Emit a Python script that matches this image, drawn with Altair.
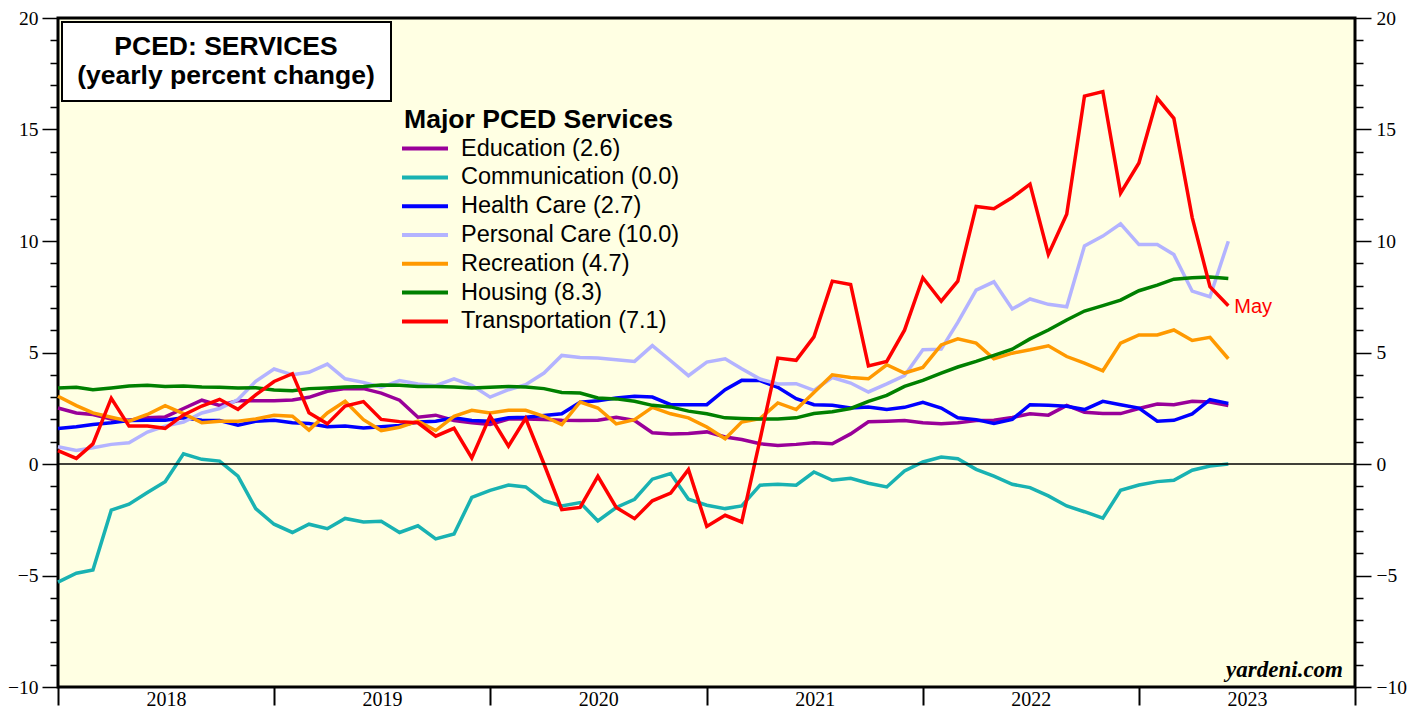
import altair as alt
import pandas as pd

# ---------------- data ----------------
months = [str(p) for p in pd.period_range("2017-12", "2023-05", freq="M")]
# each monthly value is plotted at the end of its month
plot_dates = [(pd.Period(m, freq="M") + 1).start_time.strftime("%Y-%m-%d") for m in months]

series_names = ["Education", "Communication", "Health Care", "Personal Care",
                "Recreation", "Housing", "Transportation"]
series_colors = ["#990099", "#19B2B2", "#0000FF", "#B3B3FF",
                 "#FF9900", "#008000", "#FF0000"]

education = [2.51, 2.29, 2.22, 2.02, 1.96, 2.07, 2.11, 2.49, 2.86, 2.63, 2.84, 2.84,
             2.84, 2.87, 2.99, 3.26, 3.38, 3.38, 3.18, 2.86, 2.10, 2.19, 1.95, 1.85,
             1.77, 2.02, 2.02, 2.00, 1.96, 1.95, 1.96, 2.10, 1.95, 1.40, 1.35, 1.37,
             1.44, 1.21, 1.10, 0.91, 0.83, 0.88, 0.95, 0.91, 1.35, 1.89, 1.92, 1.95,
             1.85, 1.80, 1.85, 1.95, 1.96, 2.09, 2.25, 2.19, 2.63, 2.32, 2.26, 2.26,
             2.49, 2.69, 2.66, 2.81, 2.78, 2.62]
communication = [-5.30, -4.90, -4.75, -2.07, -1.80, -1.28, -0.79, 0.46, 0.21, 0.13, -0.54, -2.00,
                 -2.70, -3.07, -2.70, -2.90, -2.44, -2.60, -2.57, -3.07, -2.77, -3.36, -3.14, -1.50,
                 -1.18, -0.94, -1.03, -1.65, -1.88, -1.73, -2.55, -1.95, -1.58, -0.68, -0.43, -1.58,
                 -1.85, -2.00, -1.88, -0.95, -0.91, -0.95, -0.36, -0.73, -0.64, -0.86, -1.03, -0.31,
                 0.09, 0.31, 0.24, -0.24, -0.54, -0.91, -1.06, -1.43, -1.88, -2.14, -2.43, -1.18,
                 -0.94, -0.79, -0.73, -0.28, -0.09, 0.0]
health_care = [1.59, 1.67, 1.77, 1.85, 1.95, 1.96, 1.96, 2.07, 1.96, 1.95, 1.74, 1.92,
               1.96, 1.85, 1.82, 1.67, 1.70, 1.62, 1.67, 1.73, 1.88, 1.92, 2.07, 1.95,
               1.92, 2.07, 2.10, 2.17, 2.25, 2.77, 2.84, 2.96, 3.04, 3.00, 2.66, 2.66,
               2.66, 3.33, 3.75, 3.74, 3.44, 2.93, 2.66, 2.63, 2.51, 2.56, 2.44, 2.54,
               2.77, 2.51, 2.07, 1.99, 1.82, 2.00, 2.66, 2.63, 2.59, 2.44, 2.81, 2.66,
               2.51, 1.92, 1.96, 2.25, 2.89, 2.72]
personal_care = [0.77, 0.61, 0.73, 0.88, 0.95, 1.43, 1.70, 1.88, 2.29, 2.49, 2.89, 3.71,
                 4.26, 4.00, 4.11, 4.48, 3.82, 3.66, 3.44, 3.74, 3.59, 3.51, 3.82, 3.53,
                 3.00, 3.33, 3.56, 4.08, 4.87, 4.78, 4.75, 4.67, 4.60, 5.31, 4.63, 3.96,
                 4.57, 4.72, 4.27, 3.81, 3.59, 3.60, 3.30, 3.88, 3.63, 3.23, 3.59, 3.96,
                 5.12, 5.15, 6.35, 7.80, 8.17, 6.95, 7.40, 7.16, 7.05, 9.78, 10.22, 10.77,
                 9.84, 9.84, 9.39, 7.75, 7.50, 9.99]
recreation = [3.04, 2.62, 2.29, 2.10, 1.92, 2.22, 2.62, 2.26, 1.85, 1.92, 1.92, 2.02,
              2.19, 2.14, 1.52, 2.29, 2.81, 1.99, 1.50, 1.65, 1.92, 1.50, 2.14, 2.41,
              2.29, 2.41, 2.41, 2.14, 1.77, 2.78, 2.51, 1.80, 1.99, 2.54, 2.25, 2.07,
              1.66, 1.13, 1.88, 2.04, 2.74, 2.44, 3.21, 4.00, 3.88, 3.82, 4.45, 4.08,
              4.33, 5.34, 5.61, 5.42, 4.72, 4.97, 5.12, 5.30, 4.82, 4.52, 4.18, 5.42,
              5.79, 5.79, 6.01, 5.54, 5.68, 4.72]
housing = [3.41, 3.44, 3.33, 3.41, 3.50, 3.53, 3.47, 3.50, 3.45, 3.44, 3.41, 3.42,
           3.32, 3.29, 3.38, 3.41, 3.45, 3.48, 3.54, 3.53, 3.48, 3.48, 3.45, 3.41,
           3.44, 3.48, 3.45, 3.38, 3.21, 3.18, 2.96, 2.92, 2.81, 2.63, 2.56, 2.37,
           2.25, 2.07, 2.04, 2.02, 2.02, 2.07, 2.26, 2.34, 2.49, 2.81, 3.08, 3.48,
           3.75, 4.08, 4.35, 4.60, 4.87, 5.15, 5.61, 6.01, 6.46, 6.86, 7.10, 7.35,
           7.77, 8.02, 8.29, 8.35, 8.39, 8.32]
transportation = [0.60, 0.25, 0.90, 2.95, 1.70, 1.70, 1.60, 2.20, 2.60, 2.90, 2.45, 3.10,
                  3.70, 4.05, 2.30, 1.80, 2.60, 2.80, 2.00, 1.90, 1.85, 1.25, 1.60, 0.27,
                  2.15, 0.80, 2.05, 0.00, -2.05, -1.95, -0.55, -1.95, -2.45, -1.65, -1.30, -0.25,
                  -2.80, -2.30, -2.60, 1.10, 4.75, 4.65, 5.70, 8.20, 8.05, 4.40, 4.60, 6.00,
                  8.35, 7.30, 8.20, 11.55, 11.45, 11.95, 12.55, 9.40, 11.20, 16.50, 16.70, 12.15,
                  13.50, 16.40, 15.50, 11.05, 7.95, 7.10]

series_values = [education, communication, health_care, personal_care,
                 recreation, housing, transportation]

title_lines = ["PCED: SERVICES", "(yearly percent change)"]
legend_title = "Major PCED Services"
latest_label = "May"
source_text = "yardeni.com"

legend_labels = [f"{n} ({v[-1]:.1f})" for n, v in zip(series_names, series_values)]

rows = []
for lab, vals in zip(legend_labels, series_values):
    for m, d, v in zip(months, plot_dates, vals):
        rows.append({"series": lab, "month": m, "date": d, "value": v})
df = pd.DataFrame(rows)

last_df = df[(df["series"] == legend_labels[-1]) & (df["month"] == months[-1])].copy()
last_df["note"] = latest_label

# ---------------- scales / axes ----------------
W, H = 1297, 669
SERIF = "Liberation Serif"
SANS = "Liberation Sans"

x_scale = alt.Scale(type="utc",
                    domain=[alt.DateTime(year=2018, month=1, date=1, utc=True),
                            alt.DateTime(year=2024, month=1, date=1, utc=True)])
y_scale = alt.Scale(domain=[-10, 20], nice=False, zero=False)

x_axis = alt.Axis(
    title=None, grid=False, domain=False,
    values=[alt.DateTime(year=y, month=1, date=1, utc=True) for y in range(2018, 2025)],
    format="%Y", labelExpr="datum.label == '2024' ? '' : datum.label",
    labelOffset=108, labelAlign="center", labelBaseline="alphabetic",
    labelFont=SERIF, labelFontSize=20, labelColor="black",
    labelPadding=0, labelFlush=False, labelOverlap=False, labelBound=False,
    tickSize=18, tickWidth=2, tickColor="black",
)

tick_size_cond = {"condition": {"test": "datum.value % 5 === 0", "value": 16}, "value": 8}
y_values = list(range(-10, 21))


def y_axis(orient):
    return alt.Axis(
        orient=orient, title=None, grid=False, domain=False,
        values=y_values,
        labelExpr="datum.value % 5 === 0 ? datum.label : ''",
        labelFont=SERIF, labelFontSize=19.5, labelColor="black",
        labelAlign="right" if orient == "left" else "left",
        labelBaseline="middle", labelPadding=4 if orient == "left" else 5,
        labelOverlap=False, labelBound=False, labelFlush=False,
        tickSize=tick_size_cond, tickWidth=1.5, tickColor="black",
    )


x_enc = alt.X("date:T", scale=x_scale, axis=x_axis)

zero_rule = alt.Chart(pd.DataFrame({"zero": [0]})).mark_rule(
    color="black", strokeWidth=1.3
).encode(y=alt.Y("zero:Q", scale=y_scale, axis=y_axis("right")))

lines = alt.Chart(df).mark_line(strokeWidth=3.5, strokeJoin="miter").encode(
    x=x_enc,
    y=alt.Y("value:Q", scale=y_scale, axis=y_axis("left")),
    color=alt.Color(
        "series:N",
        scale=alt.Scale(domain=legend_labels, range=series_colors),
        sort=legend_labels,
        legend=alt.Legend(
            title=legend_title, orient="none", legendX=346, legendY=89,
            direction="vertical", padding=0,
            titleFont=SANS, titleFontSize=26.6, titleFontWeight="bold",
            titleColor="black", titlePadding=3, titleAnchor="start",
            titleLimit=600,
            labelFont=SANS, labelFontSize=23.5, labelColor="black",
            labelOffset=33, labelLimit=500,
            symbolType="M-1.4,0H3.2", symbolSize=400, symbolStrokeWidth=4,
            rowPadding=4.8,
        ),
    ),
)

may_text = alt.Chart(last_df).mark_text(
    align="left", baseline="alphabetic", dx=6, dy=7,
    font=SANS, fontSize=20, color="#FF0000"
).encode(
    x=x_enc,
    y=alt.Y("value:Q", scale=y_scale, axis=None),
    text="note:N",
)

box_df = pd.DataFrame({"line": title_lines})
title_box = alt.Chart(box_df.head(1)).mark_rect(
    fill="white", stroke="black", strokeWidth=2
).encode(x=alt.value(4), x2=alt.value(333), y=alt.value(4), y2=alt.value(83))

title_t1 = alt.Chart(box_df.head(1)).mark_text(
    font=SANS, fontSize=26.5, fontWeight="bold", color="black",
    align="center", baseline="alphabetic"
).encode(x=alt.value(168), y=alt.value(37), text=alt.value(title_lines[0]))

title_t2 = alt.Chart(box_df.head(1)).mark_text(
    font=SANS, fontSize=26.5, fontWeight="bold", color="black",
    align="center", baseline="alphabetic"
).encode(x=alt.value(168), y=alt.value(66), text=alt.value(title_lines[1]))

source = alt.Chart(box_df.head(1)).mark_text(
    font=SERIF, fontSize=23, fontWeight="bold", fontStyle="italic", color="black",
    align="right", baseline="alphabetic"
).encode(x=alt.value(1285), y=alt.value(659), text=alt.value(source_text))

chart = alt.layer(
    lines, zero_rule, may_text, title_box, title_t1, title_t2, source
).resolve_axis(y="independent").properties(
    width=W, height=H,
    autosize=alt.AutoSizeParams(type="none"),
    padding={"left": 50, "top": 10, "right": 56, "bottom": 22},
    background="white",
).configure_view(stroke="black", strokeWidth=3, fill="#FFFFE3")

chart.save("out.html", embed_options={"renderer": "svg", "actions": False})
